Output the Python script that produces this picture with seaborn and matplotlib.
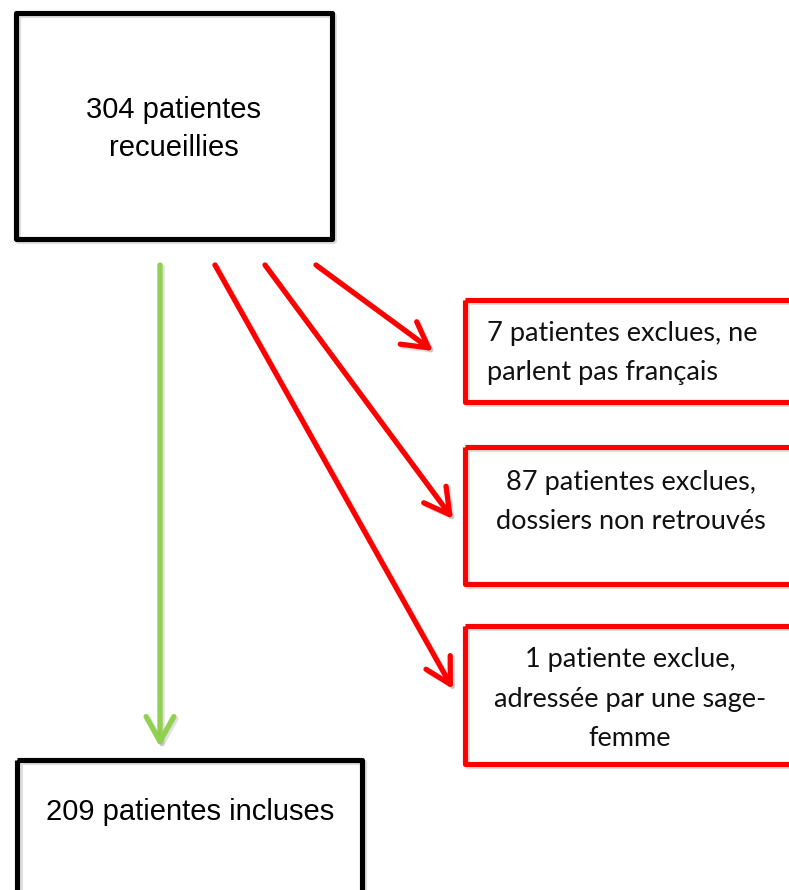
"""
Flow chart of patient inclusion (304 recueillies -> 209 incluses).
"""
import matplotlib
matplotlib.use("Agg")
import matplotlib.pyplot as plt
import matplotlib.patches as mpatches
import matplotlib.patheffects as pe
import seaborn as sns

# ── Data ─────────────────────────────────────────────────────
n_total = 304
n_included = 209
n_excluded = [7, 87, 1]
total_label = f"{n_total} patientes\nrecueillies"
included_label = f"{n_included} patientes incluses"
excluded_labels = [
    f"{n_excluded[0]} patientes exclues, ne\nparlent pas français",
    f"{n_excluded[1]} patientes exclues,\ndossiers non retrouvés",
    f"{n_excluded[2]} patiente exclue,\nadressée par une sage-\nfemme",
]

# ── Layout (pixel coordinates, y downwards) ──────────────────
W, H = 789, 890
BLACK_BOXES = [(16, 12.5, 332, 239), (17.5, 759.5, 362, 960)]
RED_BOXES = [(465, 300, 800, 402), (465, 447, 800, 584), (465, 626, 800, 764)]
RED_TEXT_POS = [(487, 353, "left"), (631, 502, "center"), (630, 699, "center")]
RED_ARROWS = [((316, 265), (433, 351)), ((265, 265), (453, 519)), ((215, 265), (453, 689))]
GREEN_ARROW = ((160, 265), (160, 747))

RED = "#FF0000"
GREEN = "#92D050"

sns.set_theme(style="white")
fig = plt.figure(figsize=(W / 100, H / 100), dpi=100)
ax = fig.add_axes([0, 0, 1, 1])
ax.set_xlim(0, W)
ax.set_ylim(H, 0)
ax.axis("off")

shadow = [pe.SimpleLineShadow(offset=(1.5, -1.5), shadow_color="gray", alpha=0.25), pe.Normal()]

def box(x0, y0, x1, y1, color):
    ax.add_patch(mpatches.Rectangle((x0, y0), x1 - x0, y1 - y0, fill=False,
                                    edgecolor=color, linewidth=3.7,
                                    joinstyle="round", path_effects=shadow))

for b in BLACK_BOXES:
    box(*b, "black")
for b in RED_BOXES:
    box(*b, RED)

sans = ["Liberation Sans", "DejaVu Sans"]
ax.text(174, 129, total_label, ha="center", va="center", fontsize=21,
        family=sans, color="black", linespacing=1.45)
ax.text(190, 812, included_label, ha="center", va="center", fontsize=21,
        family=sans, color="black")

for (x, y, ha), lab in zip(RED_TEXT_POS, excluded_labels):
    ax.text(x, y, lab, ha=ha, va="center", fontsize=19.5,
            family=["Lato", "DejaVu Sans"], color="#111111",
            linespacing=1.72, multialignment="left" if ha == "left" else "center")

def arrow(start, end, color):
    ax.annotate("", xy=end, xytext=start,
                arrowprops=dict(arrowstyle="->,head_length=0.9,head_width=0.5",
                                color=color, lw=3.8, mutation_scale=20,
                                shrinkA=0, shrinkB=0, capstyle="round",
                                joinstyle="round", path_effects=shadow))

arrow(*GREEN_ARROW, GREEN)
for s, e in RED_ARROWS:
    arrow(s, e, RED)

fig.savefig("out.png", dpi=100)
